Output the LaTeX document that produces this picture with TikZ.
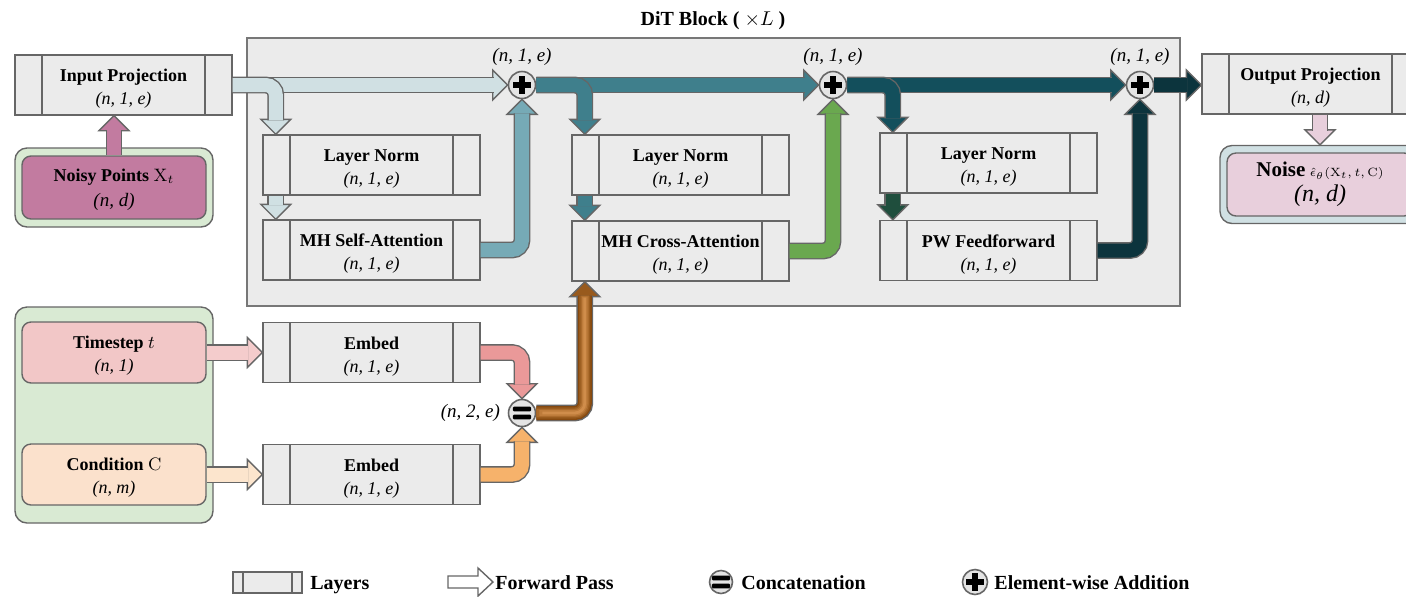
\documentclass[tikz,border=0pt]{standalone}
\usepackage[no-math]{fontspec}
\setmainfont{Liberation Serif}
\usetikzlibrary{calc}
\definecolor{edge}{HTML}{666666}
\definecolor{boxfill}{HTML}{EBEBEB}
\definecolor{blockfill}{HTML}{EBEBEB}
\definecolor{blockedge}{HTML}{777777}
\definecolor{circfill}{HTML}{E4E4E4}
\definecolor{lblue}{HTML}{D0E0E3}
\definecolor{tealL}{HTML}{76AAB6}
\definecolor{teal}{HTML}{3F7F8C}
\definecolor{grnA}{HTML}{6AA84F}
\definecolor{dteal}{HTML}{134F5C}
\definecolor{dgreen}{HTML}{1F4E3D}
\definecolor{ddteal}{HTML}{0C343D}
\definecolor{purp}{HTML}{C27BA0}
\definecolor{pinkN}{HTML}{E8CFDC}
\definecolor{grn}{HTML}{D9EAD3}
\definecolor{tsfill}{HTML}{F2C7C7}
\definecolor{condfill}{HTML}{FBE1CC}
\definecolor{tsarrow}{HTML}{F4CCCC}
\definecolor{condarrow}{HTML}{FCE5CD}
\definecolor{embA}{HTML}{EA9999}
\definecolor{embB}{HTML}{F6B26B}
\definecolor{brA}{HTML}{86490F}
\definecolor{brB}{HTML}{985A1D}
\definecolor{brC}{HTML}{AB6B2C}
\definecolor{brE}{HTML}{BE7C3B}
\definecolor{brF}{HTML}{D08D4B}
\newcommand\hd[3]{\filldraw[fill=#1, draw=edge, line width=0.7pt, shift={(#2)}, rotate=#3] (0,0) -- (-15,15) -- (-15,-15) -- cycle;}
\newcommand\st{\rule{0pt}{10.2pt}}
\begin{document}
\begin{tikzpicture}[x=0.5pt,y=-0.5pt,
  every node/.style={font=\fontsize{9}{11.5}\selectfont},
  layerbox/.style={draw=edge, fill=boxfill, line width=0.7pt, minimum width=108.5pt, minimum height=30pt, inner sep=0pt, align=center,
    path picture={\draw[edge, line width=0.7pt] ([xshift=#1]path picture bounding box.north west) -- ([xshift=#1]path picture bounding box.south west) ([xshift=-#1]path picture bounding box.north east) -- ([xshift=-#1]path picture bounding box.south east);}},
  layerbox/.default=13.5pt,
  grp/.style={draw=edge, line width=0.7pt, rounded corners=6pt, fill=#1, inner sep=0pt},
  inbox/.style={draw=edge, line width=0.7pt, rounded corners=4.5pt, fill=#1, align=center, inner sep=0pt, minimum width=92pt, minimum height=30.5pt},
  plusn/.style={circle, draw=edge, fill=circfill, line width=0.8pt, minimum size=13.5pt, inner sep=0pt,
    path picture={\fill[black] ($(path picture bounding box.center)+(-4.6pt,-1.4pt)$) rectangle ++(9.2pt,2.8pt);
      \fill[black] ($(path picture bounding box.center)+(-1.4pt,-4.6pt)$) rectangle ++(2.8pt,9.2pt);}},
  catn/.style={circle, draw=edge, fill=circfill, line width=0.8pt, minimum size=13.5pt, inner sep=0pt,
    path picture={\fill[black, rounded corners=0.6pt] ($(path picture bounding box.center)+(-4.6pt,0.8pt)$) rectangle ++(9.2pt,2.4pt);
      \fill[black, rounded corners=0.6pt] ($(path picture bounding box.center)+(-4.6pt,-3.2pt)$) rectangle ++(9.2pt,2.4pt);}},
  body/.style={draw=edge, line width=0.7pt, double=#1, double distance=7pt, rounded corners=5pt},
  band/.style={draw=#1, rounded corners=5pt},
  dim/.style={font=\fontsize{9.5}{11.5}\selectfont\itshape},
  lg/.style={font=\fontsize{10}{12}\selectfont\bfseries, anchor=base west, inner sep=0pt}]
\useasboundingbox (0,0) rectangle (1406,596);
\clip (0,0) rectangle (1406,596);

% DiT block
\node[draw=blockedge, fill=blockfill, line width=0.8pt, minimum width=466.5pt, minimum height=134pt, inner sep=0pt] (dit) at (713.5,172) {};
\node[font=\fontsize{10}{12}\selectfont\bfseries] (title) at (713,21) {DiT Block ( $\times L$ )};

% left inputs
\node[layerbox] (inproj) at (123.5,85) {\st\textbf{Input Projection}\\\textit{(n, 1, e)}};
\node[grp=grn, minimum width=99pt, minimum height=39.5pt] (noisyG) at (114,187.5) {};
\node[inbox=purp, minimum height=31.5pt] (noisy) at (114,187.5) {\rule{0pt}{9pt}\textbf{Noisy Points} $\mathrm{X}_t$\\[1pt]{\fontsize{9.5}{11.5}\selectfont\itshape (n, d)}};

\node[grp=grn, minimum width=99pt, minimum height=108pt] (condG) at (114,415) {};
\node[inbox=tsfill] (ts) at (114,352.5) {\rule{0pt}{9.5pt}\textbf{Timestep} $t$\\\textit{(n, 1)}};
\node[inbox=condfill] (cond) at (114,474.5) {\rule{0pt}{9.5pt}\textbf{Condition} $\mathrm{C}$\\\textit{(n, m)}};

\node[layerbox] (emb1) at (371.5,352.5) {\st\textbf{Embed}\\\textit{(n, 1, e)}};
\node[layerbox] (emb2) at (371.5,474.5) {\st\textbf{Embed}\\\textit{(n, 1, e)}};

% block layers
\node[layerbox] (ln1) at (371.5,165) {\st\textbf{Layer Norm}\\\textit{(n, 1, e)}};
\node[layerbox] (mhsa) at (371.5,250) {\st\textbf{MH Self-Attention}\\\textit{(n, 1, e)}};
\node[layerbox] (ln2) at (680.5,165) {\st\textbf{Layer Norm}\\\textit{(n, 1, e)}};
\node[layerbox] (mhca) at (680.5,251) {\st\textbf{MH Cross-Attention}\\\textit{(n, 1, e)}};
\node[layerbox] (ln3) at (988.5,163) {\st\textbf{Layer Norm}\\\textit{(n, 1, e)}};
\node[layerbox] (pwff) at (988.5,250.5) {\st\textbf{PW Feedforward}\\\textit{(n, 1, e)}};

% output
\node[layerbox] (outproj) at (1310.5,84) {\st\textbf{Output Projection}\\\textit{(n, d)}};
\node[grp=lblue, minimum width=100pt, minimum height=39pt] (noiseG) at (1320,184.5) {};
\node[inbox=pinkN, minimum width=93pt, minimum height=31.5pt] (noise) at (1320,184.5) {{\fontsize{10.5}{13}\selectfont\bfseries Noise} $\scriptstyle\hat{\epsilon}_{\theta}(\mathrm{X}_t,\,t,\,\mathrm{C})$\\[1pt]{\fontsize{12}{14}\selectfont\itshape (n, d)}};

% operators
\node[plusn] (p1) at (522,85) {};
\node[plusn] (p2) at (833,85) {};
\node[plusn] (p3) at (1140,85) {};
\node[catn] (cc) at (522,413) {};
\node[dim] (d1) at (522,57) {(n, 1, e)};
\node[dim] (d2) at (833,57) {(n, 1, e)};
\node[dim] (d3) at (1140,57) {(n, 1, e)};
\node[dim, anchor=east] (d4) at (507,413) {(n, 2, e)};

% entry coordinates
\coordinate (ln1in) at ($(ln1.north west)+(13.5,0)$);
\coordinate (ln1out) at ($(ln1.south west)+(13.5,0)$);
\coordinate (mhsain) at ($(mhsa.north west)+(13.5,0)$);
\coordinate (ln2in) at ($(ln2.north west)+(13.5,0)$);
\coordinate (ln2out) at ($(ln2.south west)+(13.5,0)$);
\coordinate (mhcain) at ($(mhca.north west)+(13.5,0)$);
\coordinate (mhcabot) at ($(mhca.south west)+(13.5,0)$);
\coordinate (ln3in) at ($(ln3.north west)+(13.5,0)$);
\coordinate (ln3out) at ($(ln3.south west)+(13.5,0)$);
\coordinate (pwffin) at ($(pwff.north west)+(13.5,0)$);
\coordinate (inprojbot) at (noisy.north |- inproj.south);
\coordinate (outprojbot) at (noiseG.north |- outproj.south);
\coordinate (outprojin) at (outproj.west |- p3);

% noisy -> input projection
\hd{purp}{inprojbot}{90}
\draw[body=purp] (noisy.north) -- ($(inprojbot)+(0,14)$);

% input projection -> plus1 and -> ln1
\hd{lblue}{p1.west}{0}
\draw[body=lblue] (inproj.east) -- ($(p1.west)+(-14,0)$);
\hd{lblue}{ln1in}{-90}
\draw[body=lblue] (inproj.east) -- (ln1in |- inproj.east) -- ($(ln1in)+(0,-14)$);
\hd{lblue}{mhsain}{-90}
\draw[body=lblue] (ln1out) -- ($(mhsain)+(0,-14)$);
\hd{tealL}{p1.south}{90}
\draw[body=tealL] (mhsa.east) -- (p1 |- mhsa.east) -- ($(p1.south)+(0,14)$);

% plus1 -> plus2 and -> ln2
\hd{teal}{p2.west}{0}
\draw[body=teal] (p1.east) -- ($(p2.west)+(-14,0)$);
\hd{teal}{ln2in}{-90}
\draw[body=teal] (p1.east) -- (ln2in |- p1.east) -- ($(ln2in)+(0,-14)$);
\hd{teal}{mhcain}{-90}
\draw[body=teal] (ln2out) -- ($(mhcain)+(0,-14)$);
\hd{grnA}{p2.south}{90}
\draw[body=grnA] (mhca.east) -- (p2 |- mhca.east) -- ($(p2.south)+(0,14)$);

% plus2 -> plus3 and -> ln3
\hd{dteal}{p3.west}{0}
\draw[body=dteal] (p2.east) -- ($(p3.west)+(-14,0)$);
\hd{dteal}{ln3in}{-90}
\draw[body=dteal] (p2.east) -- (ln3in |- p2.east) -- ($(ln3in)+(0,-14)$);
\hd{dgreen}{pwffin}{-90}
\draw[body=dgreen] (ln3out) -- ($(pwffin)+(0,-14)$);
\hd{ddteal}{p3.south}{90}
\draw[body=ddteal] (pwff.east) -- (p3 |- pwff.east) -- ($(p3.south)+(0,14)$);

% plus3 -> output projection -> noise
\hd{ddteal}{outprojin}{0}
\draw[body=ddteal] (p3.east) -- ($(outprojin)+(-14,0)$);
\hd{pinkN}{noiseG.north}{-90}
\draw[body=pinkN] (outprojbot) -- ($(noiseG.north)+(0,-14)$);

% conditioning
\hd{tsarrow}{emb1.west}{0}
\draw[body=tsarrow] (ts.east) -- ($(emb1.west)+(-14,0)$);
\hd{condarrow}{emb2.west}{0}
\draw[body=condarrow] (cond.east) -- ($(emb2.west)+(-14,0)$);
\hd{embA}{cc.north}{-90}
\draw[body=embA] (emb1.east) -- (cc |- emb1.east) -- ($(cc.north)+(0,-14)$);
\hd{embB}{cc.south}{90}
\draw[body=embB] (emb2.east) -- (cc |- emb2.east) -- ($(cc.south)+(0,14)$);
\hd{brB}{mhcabot}{90}
\draw[body=brA] (cc.east) -- (mhcabot |- cc.east) -- ($(mhcabot)+(0,14)$);
\draw[band=brB, line width=5.6pt] (cc.east) -- (mhcabot |- cc.east) -- ($(mhcabot)+(0,14)$);
\draw[band=brC, line width=4.2pt] (cc.east) -- (mhcabot |- cc.east) -- ($(mhcabot)+(0,14)$);
\draw[band=brE, line width=2.8pt] ($(cc.east)+(3,0)$) -- (mhcabot |- cc.east) -- ($(mhcabot)+(0,15)$);
\draw[band=brF, line width=1.4pt] ($(cc.east)+(6,0)$) -- (mhcabot |- cc.east) -- ($(mhcabot)+(0,16)$);

% legend
\node[layerbox=5pt, minimum width=34.5pt, minimum height=10.5pt] (lgl) at (267.5,582.5) {};
\node[lg] (lglt) at (310,589) {Layers};
\filldraw[fill=white, draw=edge, line width=0.7pt] (448,576) -- (478,576) -- (478,568) -- (493,582) -- (478,596) -- (478,588) -- (448,588) -- cycle;
\node[lg] (lgft) at (495,589) {Forward Pass};
\node[catn, minimum size=11.5pt] (lgc) at (721,582) {};
\node[lg] (lgct) at (741,589) {Concatenation};
\node[plusn, minimum size=12.5pt] (lgp) at (975,582) {};
\node[lg] (lgpt) at (994,589) {Element-wise Addition};
\end{tikzpicture}
\end{document}
